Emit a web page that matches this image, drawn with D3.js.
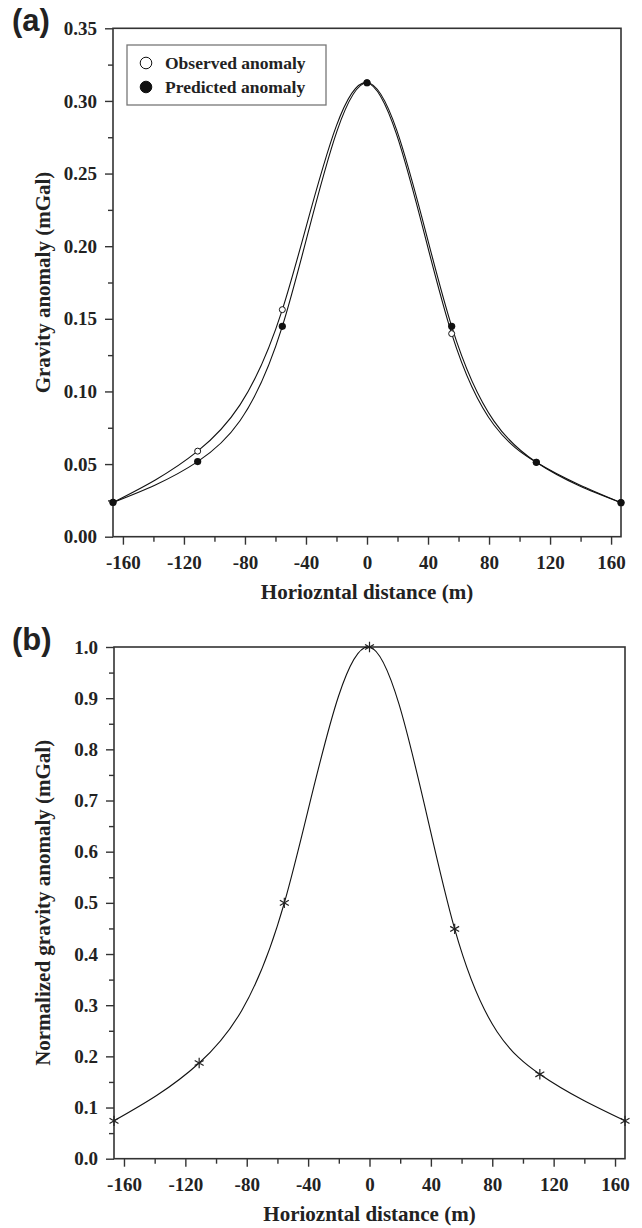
<html>
<head>
    <meta charset="utf-8">
    <script src="https://d3js.org/d3.v7.min.js"></script>
    <style>
        body { margin: 0; background: #fff; }
        .tick text { font-family: "Liberation Serif", "Times New Roman", serif; font-weight: bold; font-size: 19px; fill: #222; }
        .tick line { stroke: #333; stroke-width: 1.4; }
    </style>
</head>

<body>
    <svg id="plot"></svg>

    <script>
        // data
        var xValues   = [-166.5, -111, -55.5, 0, 55.5, 111, 166.5];
        var observed  = [0.0236, 0.0589, 0.1563, 0.3125, 0.1398, 0.0512, 0.0234];
        var predicted = [0.0236, 0.0517, 0.1448, 0.3125, 0.1448, 0.0512, 0.0234];
        var normalized = [0.074, 0.187, 0.500, 1.000, 0.449, 0.165, 0.074];

        var xTicks = [-160, -120, -80, -40, 0, 40, 80, 120, 160];
        var xMinor = [-140, -100, -60, -20, 20, 60, 100, 140];
        var aTicks = [0, 0.05, 0.10, 0.15, 0.20, 0.25, 0.30, 0.35];
        var aMinor = [0.025, 0.075, 0.125, 0.175, 0.225, 0.275, 0.325];
        var bTicks = [0, 0.1, 0.2, 0.3, 0.4, 0.5, 0.6, 0.7, 0.8, 0.9, 1.0];
        var bMinor = [0.05, 0.15, 0.25, 0.35, 0.45, 0.55, 0.65, 0.75, 0.85, 0.95];

        var svg = d3.select("#plot")
            .attr("width", 642)
            .attr("height", 1228);

        var serif = "'Liberation Serif', 'Times New Roman', serif";
        var sans = "'Liberation Sans', Arial, sans-serif";

        function panel(opt) {
            var x = d3.scaleLinear().domain([-166.5, 166.5]).range([opt.left, opt.right]);
            var y = d3.scaleLinear().domain(opt.yDomain).range([opt.bottom, opt.top]);

            var g = svg.append("g");

            // minor ticks
            g.append("g").attr("transform", "translate(0," + opt.bottom + ")")
                .call(d3.axisBottom(x).tickValues(xMinor).tickSize(5).tickFormat(""));
            g.append("g").attr("transform", "translate(" + opt.left + ",0)")
                .call(d3.axisLeft(y).tickValues(opt.yMinor).tickSize(5).tickFormat(""));

            // major ticks (plain hyphen for negatives, as in the figure)
            g.append("g").attr("transform", "translate(0," + opt.bottom + ")")
                .call(d3.axisBottom(x).tickValues(xTicks).tickSize(8).tickPadding(11)
                    .tickFormat(function (d) { return String(d); }));
            g.append("g").attr("transform", "translate(" + opt.left + ",0)")
                .call(d3.axisLeft(y).tickValues(opt.yTicks).tickSize(8).tickPadding(8).tickFormat(d3.format(opt.fmt)));

            g.selectAll(".domain").remove();

            // frame
            g.append("rect")
                .attr("x", opt.left).attr("y", opt.top)
                .attr("width", opt.right - opt.left).attr("height", opt.bottom - opt.top)
                .attr("fill", "none").attr("stroke", "#333").attr("stroke-width", 1.6);

            // titles
            g.append("text")
                .attr("x", (opt.left + opt.right) / 2).attr("y", opt.bottom + 62)
                .attr("text-anchor", "middle")
                .style("font-family", serif).style("font-weight", "bold").style("font-size", "21px")
                .attr("fill", "#222")
                .text("Horiozntal distance (m)");
            g.append("text")
                .attr("transform", "translate(50," + (opt.top + opt.bottom) / 2 + ") rotate(-90)")
                .attr("text-anchor", "middle")
                .style("font-family", serif).style("font-weight", "bold").style("font-size", "21px")
                .attr("fill", "#222")
                .text(opt.yTitle);
            g.append("text")
                .attr("x", 12).attr("y", opt.top + 3)
                .style("font-family", sans).style("font-weight", "bold").style("font-size", "31px")
                .attr("fill", "#222")
                .text(opt.label);

            return { g: g, x: x, y: y };
        }

        var line = function (p, vals) {
            return d3.line()
                .x(function (d, i) { return p.x(xValues[i]); })
                .y(function (d) { return p.y(d); })
                .curve(d3.curveNatural)(vals);
        };

        // ---- panel (a)
        var pa = panel({
            left: 113, right: 621, top: 28.3, bottom: 536.7,
            yDomain: [0, 0.35], yTicks: aTicks, yMinor: aMinor, fmt: ".2f",
            yTitle: "Gravity anomaly (mGal)", label: "(a)"
        });

        [observed, predicted].forEach(function (vals) {
            pa.g.append("path")
                .attr("d", line(pa, vals))
                .attr("fill", "none").attr("stroke", "#111").attr("stroke-width", 1.1);
        });

        pa.g.selectAll(".obs").data(observed).enter()
            .append("circle").classed("obs", true)
            .attr("cx", function (d, i) { return pa.x(xValues[i]); })
            .attr("cy", function (d) { return pa.y(d); })
            .attr("r", 3).attr("fill", "#fff").attr("stroke", "#111").attr("stroke-width", 1);

        pa.g.selectAll(".pred").data(predicted).enter()
            .append("circle").classed("pred", true)
            .attr("cx", function (d, i) { return pa.x(xValues[i]); })
            .attr("cy", function (d) { return pa.y(d); })
            .attr("r", 3.6).attr("fill", "#111");

        // legend
        var legend = pa.g.append("g");
        legend.append("rect")
            .attr("x", 127).attr("y", 45).attr("width", 199).attr("height", 60)
            .attr("fill", "#fff").attr("stroke", "#777").attr("stroke-width", 1.3);
        var legendItems = [
            { name: "Observed anomaly", fill: "#fff" },
            { name: "Predicted anomaly", fill: "#111" }
        ];
        legendItems.forEach(function (d, i) {
            legend.append("circle")
                .attr("cx", 146).attr("cy", 63 + i * 24).attr("r", 5.8)
                .attr("fill", d.fill).attr("stroke", "#111").attr("stroke-width", 1);
            legend.append("text")
                .attr("x", 165).attr("y", 68.5 + i * 24)
                .style("font-family", serif).style("font-weight", "bold").style("font-size", "17.5px")
                .attr("fill", "#222")
                .text(d.name);
        });

        // ---- panel (b)
        var pb = panel({
            left: 114, right: 625, top: 647, bottom: 1158.7,
            yDomain: [0, 1], yTicks: bTicks, yMinor: bMinor, fmt: ".1f",
            yTitle: "Normalized gravity anomaly (mGal)", label: "(b)"
        });

        pb.g.append("path")
            .attr("d", line(pb, normalized))
            .attr("fill", "none").attr("stroke", "#111").attr("stroke-width", 1.1);

        pb.g.selectAll(".star").data(normalized).enter()
            .append("path").classed("star", true)
            .attr("transform", function (d, i) { return "translate(" + pb.x(xValues[i]) + "," + pb.y(d) + ")"; })
            .attr("d", d3.symbol().type(d3.symbolAsterisk).size(75))
            .attr("fill", "none").attr("stroke", "#222").attr("stroke-width", 1.2);
    </script>
</body>
</html>
